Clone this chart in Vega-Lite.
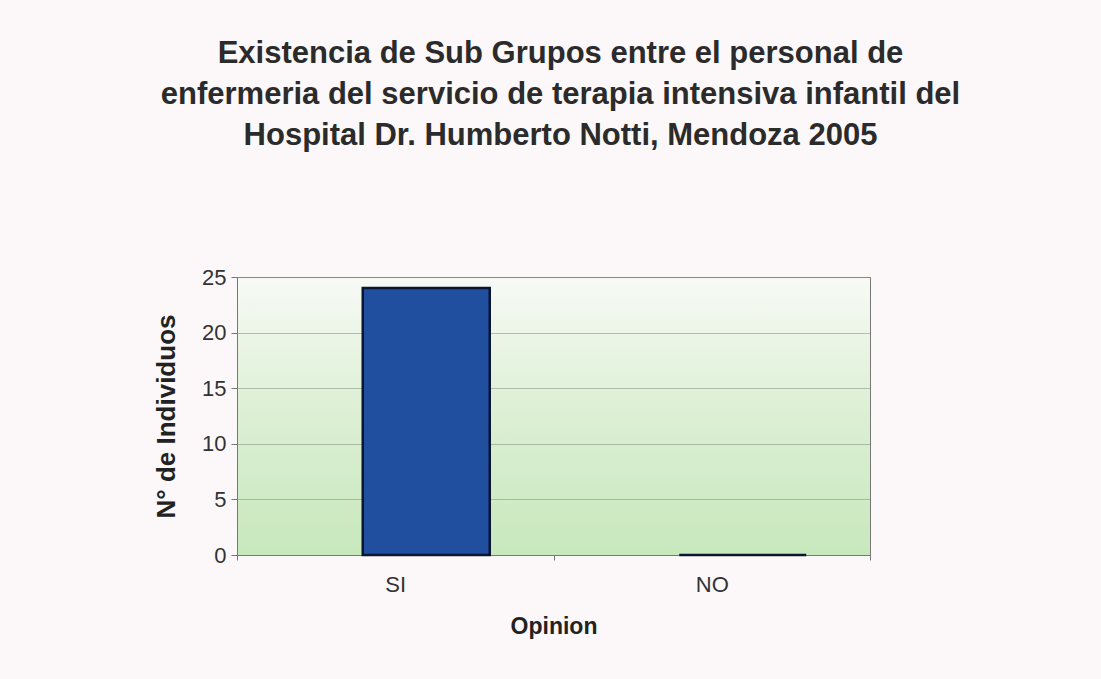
{
  "$schema": "https://vega.github.io/schema/vega-lite/v6.json",
  "autosize": {"type": "none"},
  "width": 633,
  "height": 278,
  "padding": {"left": 237, "top": 277, "right": 231, "bottom": 124},
  "background": "#fcf8f9",
  "title": {
    "text": ["Existencia de Sub Grupos entre el personal de", "enfermeria del servicio de terapia intensiva infantil del", "Hospital Dr. Humberto Notti, Mendoza 2005"],
    "font": "Liberation Sans",
    "fontSize": 31,
    "fontWeight": "bold",
    "color": "#2b2b2b",
    "lineHeight": 41,
    "anchor": "middle",
    "dx": 7,
    "offset": 114
  },
  "data": {"values": [
    {"Opinion": "SI", "Individuos": 24},
    {"Opinion": "NO", "Individuos": 0}
  ]},
  "mark": {"type": "bar", "size": 127, "xOffset": 31, "color": "#1f4f9e", "stroke": "#0b1530", "strokeWidth": 2.5},
  "encoding": {
    "x": {
      "field": "Opinion", "type": "nominal", "sort": ["SI", "NO"],
      "scale": {"paddingInner": 0, "paddingOuter": 0},
      "axis": {"title": "Opinion", "labelAngle": 0, "labelFontSize": 22, "labelFont": "Liberation Sans", "labelColor": "#333", "labelPadding": 14, "titleFont": "Liberation Sans", "titleFontSize": 23, "titleFontWeight": "bold", "titleColor": "#222", "titlePadding": 20, "domainColor": "#777", "tickColor": "#777", "tickSize": 5, "tickBand": "extent"}
    },
    "y": {
      "field": "Individuos", "type": "quantitative",
      "scale": {"domain": [0, 25]},
      "axis": {"title": "N° de Individuos", "values": [0, 5, 10, 15, 20, 25], "labelFontSize": 22, "labelFont": "Liberation Sans", "labelColor": "#333", "labelPadding": 5, "titleFont": "Liberation Sans", "titleFontSize": 26, "titleFontWeight": "bold", "titleColor": "#222", "titlePadding": 22, "domainColor": "#777", "tickColor": "#777", "tickSize": 6, "gridColor": "#8a9a88", "gridOpacity": 0.6, "gridWidth": 1}
    }
  },
  "config": {
    "view": {
      "stroke": "#777",
      "strokeWidth": 1,
      "fill": {
        "gradient": "linear",
        "x1": 0, "y1": 0, "x2": 0, "y2": 1,
        "stops": [
          {"offset": 0, "color": "#f7faf5"},
          {"offset": 0.5, "color": "#dcefd3"},
          {"offset": 1, "color": "#c7e8bd"}
        ]
      }
    }
  }
}
